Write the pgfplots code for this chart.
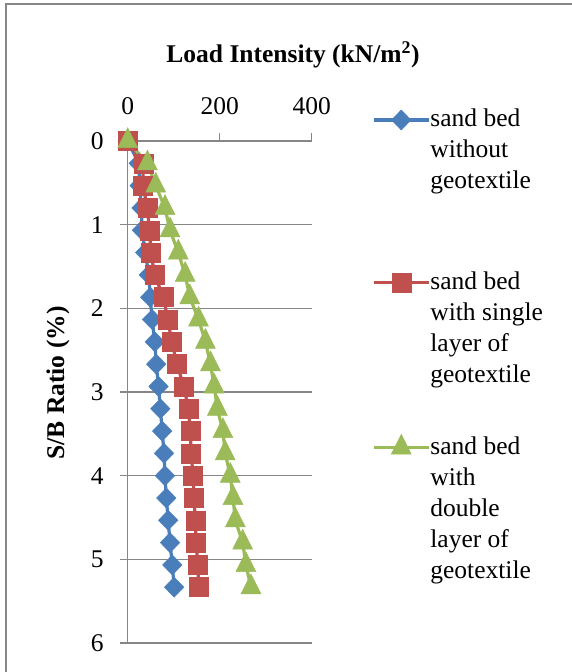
\documentclass[border=0pt]{standalone}
\usepackage{fontspec}
\setmainfont{Liberation Serif}
\usepackage{pgfplots}
\usepackage{pgfplotstable}
\pgfplotsset{compat=1.18}

\definecolor{sbblue}{HTML}{4A7EBB}
\definecolor{sbred}{HTML}{C0504D}
\definecolor{sbgreen}{HTML}{9BBB59}
\definecolor{gridgray}{HTML}{868686}

% S/B ratio (%) against load intensity (kN/m^2) for the three test beds
\pgfplotstableread{
sb     plain  single  double
0.000  0      0       0
0.267  24     34      43
0.533  26     33      61
0.800  30     43      81
1.067  31     47      92
1.333  38     51      110
1.600  46     58      125
1.867  49     78      135
2.133  53     87      154
2.400  59     96      169
2.667  62     107     180
2.933  67     122     188
3.200  71     132     195
3.467  75     136     207
3.733  79     138     212
4.000  81     142     223
4.267  84     144     229
4.533  88     147     234
4.800  92     149     250
5.067  97     152     257
5.333  101    155     268
}\sbdata

\newcommand{\lentry}[1]{\parbox[t]{135pt}{\fontsize{25.5}{31}\selectfont\raggedright #1}}

\begin{document}
\fontsize{25.5}{31}\selectfont
\begin{tikzpicture}
\useasboundingbox (0pt,0pt) rectangle (571pt,-672pt);
\draw[gridgray, line width=1.5pt] (6pt,-4pt) rectangle (640pt,-740pt);

\node[font=\fontsize{25.5}{31}\selectfont\bfseries] at (293pt,-55pt) {Load Intensity (kN/m\textsuperscript{2})};
\node[font=\fontsize{25.5}{31}\selectfont\bfseries, rotate=90] at (58pt,-383pt) {S/B Ratio (\%)};

\begin{axis}[
  at={(127.7pt,-643pt)}, anchor=south west,
  scale only axis, width=184pt, height=502pt,
  xmin=0, xmax=400, ymin=0, ymax=6, y dir=reverse,
  clip=false,
  axis line style={draw=none},
  ymajorgrids, grid style={gridgray, line width=1.3pt},
  xtick={0,200,400}, ytick={0,1,2,3,4,5,6},
  tick align=outside, major tick length=8pt,
  tick style={gridgray, line width=1.3pt},
  xtick pos=upper, xticklabel pos=upper,
  ytick pos=left,
  /pgf/number format/assume math mode=true,
  tick label style={font=\fontsize{25.5}{31}\selectfont, inner sep=0pt},
  yticklabel style={xshift=-16pt},
  xticklabel style={yshift=18pt},
  legend cell align=left,
  legend style={draw=none, fill=none, inner sep=0pt, row sep=141pt,
    at={(1.3277,1)}, anchor=north west, yshift=32pt,
    nodes={inner sep=0pt}},
  legend image code/.code={
    \draw[mark repeat=2, mark phase=2, #1] plot coordinates {(0pt,0pt) (27.5pt,0pt) (55pt,0pt)};
  },
  every axis plot/.append style={line width=3.2pt},
]
\draw[gridgray, line width=1.3pt] (axis cs:0,0) -- (axis cs:0,6);

\addplot[sbblue, mark=diamond*, mark size=10pt,
  mark options={xscale=1.3, line width=0.5pt, fill=sbblue}]
  table[x=plain, y=sb] {\sbdata};
\addlegendentry{\lentry{sand bed\\without\\geotextile}}

\addplot[sbred, mark=square*, mark size=9.5pt,
  mark options={line width=0.5pt, fill=sbred}]
  table[x=single, y=sb] {\sbdata};
\addlegendentry{\lentry{sand bed\\with single\\layer of\\geotextile}}

\addplot[sbgreen, mark=triangle*, mark size=11.5pt,
  mark options={yscale=1.15, line width=0.5pt, fill=sbgreen}]
  table[x=double, y=sb] {\sbdata};
\addlegendentry{\lentry{sand bed\\with\\double\\layer of\\geotextile}}
\end{axis}
\end{tikzpicture}
\end{document}
